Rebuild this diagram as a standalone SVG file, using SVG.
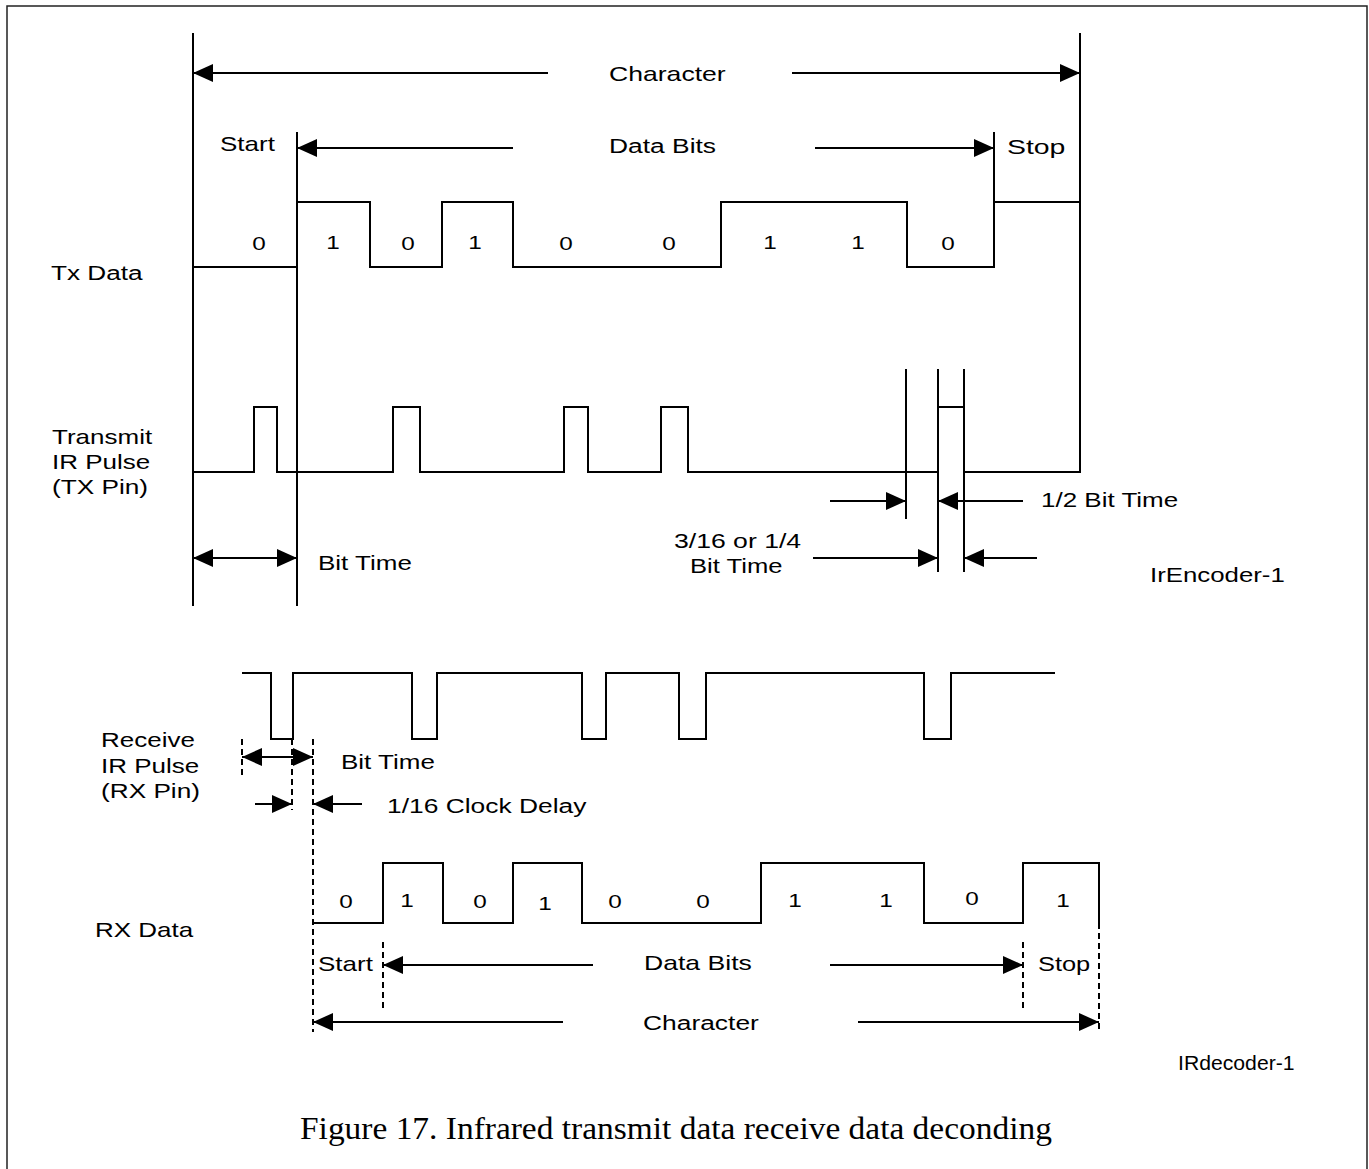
<svg xmlns="http://www.w3.org/2000/svg" width="1369" height="1169" viewBox="0 0 1369 1169">
<style>
.w{fill:none;stroke:#000;stroke-width:2;stroke-linejoin:miter}
.d{fill:none;stroke:#000;stroke-width:2;stroke-dasharray:6,4}
.t{font-family:"Liberation Sans",Arial,sans-serif;font-size:20px;fill:#000}
.n{font-family:"Liberation Sans",Arial,sans-serif;font-size:18px;fill:#000;text-anchor:middle}
.c{font-family:"Liberation Serif","Times New Roman",serif;font-size:32px;fill:#000}
</style>
<defs>
<marker id="ah" viewBox="0 0 20 18" refX="20" refY="9" markerWidth="20" markerHeight="18" markerUnits="userSpaceOnUse" orient="auto-start-reverse">
<path d="M0,0 L20,9 L0,18 Z" fill="#000"/>
</marker>
</defs>
<rect x="0" y="0" width="1369" height="1169" fill="#fff"/>
<path d="M7,1175 V6 H1367 V1175" fill="none" stroke="#222" stroke-width="1.5"/>

<g id="guides">
<path class="w" d="M193,33 V606 M297,132 V606 M1080,33 V202 M906,369 V519 M938,369 V572 M964,369 V572"/>
<path class="d" d="M242,739 V775 M292,739 V810 M313,739 V1032 M383,942 V1010 M1023,942 V1010 M1099,923 V1032"/>
</g>

<g id="tx-data">
<polyline class="w" points="193,267 297,267 297,202 370,202 370,267 442,267 442,202 513,202 513,267 721,267 721,202 907,202 907,267 994,267 994,202 1080,202"/>
<path class="w" d="M994,132 V202"/>
</g>

<g id="tx-ir-pulse">
<polyline class="w" points="193,472 254,472 254,407 277,407 277,472 393,472 393,407 420,407 420,472 564,472 564,407 588,407 588,472 661,472 661,407 688,407 688,472 938,472"/>
<path class="w" d="M938,407 H964 M964,472 H1080 V202"/>
</g>

<g id="rx-ir-pulse">
<polyline class="w" points="242,673 271,673 271,739 293,739 293,673 412,673 412,739 437,739 437,673 582,673 582,739 606,739 606,673 679,673 679,739 706,739 706,673 924,673 924,739 951,739 951,673 1055,673"/>
</g>

<g id="rx-data">
<polyline class="w" points="313,923 383,923 383,863 443,863 443,923 513,923 513,863 582,863 582,923 761,923 761,863 924,863 924,923 1023,923 1023,863 1099,863 1099,923"/>
</g>

<g id="connectors">
<line class="w" x1="548" y1="73" x2="193" y2="73" marker-end="url(#ah)"/>
<line class="w" x1="792" y1="73" x2="1080" y2="73" marker-end="url(#ah)"/>
<line class="w" x1="513" y1="148" x2="297" y2="148" marker-end="url(#ah)"/>
<line class="w" x1="815" y1="148" x2="994" y2="148" marker-end="url(#ah)"/>
<line class="w" x1="193" y1="558" x2="297" y2="558" marker-start="url(#ah)" marker-end="url(#ah)"/>
<line class="w" x1="830" y1="501" x2="906" y2="501" marker-end="url(#ah)"/>
<line class="w" x1="1023" y1="501" x2="938" y2="501" marker-end="url(#ah)"/>
<line class="w" x1="813" y1="558" x2="938" y2="558" marker-end="url(#ah)"/>
<line class="w" x1="1037" y1="558" x2="964" y2="558" marker-end="url(#ah)"/>
<line class="w" x1="242" y1="757" x2="313" y2="757" marker-start="url(#ah)" marker-end="url(#ah)"/>
<line class="w" x1="255" y1="804" x2="292" y2="804" marker-end="url(#ah)"/>
<line class="w" x1="362" y1="804" x2="313" y2="804" marker-end="url(#ah)"/>
<line class="w" x1="593" y1="965" x2="383" y2="965" marker-end="url(#ah)"/>
<line class="w" x1="830" y1="965" x2="1023" y2="965" marker-end="url(#ah)"/>
<line class="w" x1="563" y1="1022" x2="313" y2="1022" marker-end="url(#ah)"/>
<line class="w" x1="858" y1="1022" x2="1099" y2="1022" marker-end="url(#ah)"/>
</g>

<g id="labels">
<text class="t" transform="translate(609 81) scale(1.33 1)">Character</text>
<text class="t" transform="translate(220 151) scale(1.3 1)">Start</text>
<text class="t" transform="translate(609 153) scale(1.32 1)">Data Bits</text>
<text class="t" transform="translate(1007 154) scale(1.42 1)">Stop</text>
<text class="t" transform="translate(51 280) scale(1.31 1)">Tx Data</text>
<text class="t" transform="translate(52 444) scale(1.3 1)">Transmit</text>
<text class="t" transform="translate(52 469) scale(1.3 1)">IR Pulse</text>
<text class="t" transform="translate(52 494) scale(1.31 1)">(TX Pin)</text>
<text class="t" transform="translate(318 570) scale(1.3 1)">Bit Time</text>
<text class="t" transform="translate(1041 507) scale(1.3 1)">1/2 Bit Time</text>
<text class="t" transform="translate(674 548) scale(1.33 1)">3/16 or 1/4</text>
<text class="t" transform="translate(690 573) scale(1.28 1)">Bit Time</text>
<text class="t" transform="translate(1150 582) scale(1.29 1)">IrEncoder-1</text>
<text class="t" transform="translate(101 747) scale(1.3 1)">Receive</text>
<text class="t" transform="translate(101 773) scale(1.3 1)">IR Pulse</text>
<text class="t" transform="translate(101 798) scale(1.31 1)">(RX Pin)</text>
<text class="t" transform="translate(341 769) scale(1.3 1)">Bit Time</text>
<text class="t" transform="translate(387 813) scale(1.32 1)">1/16 Clock Delay</text>
<text class="t" transform="translate(95 937) scale(1.3 1)">RX Data</text>
<text class="t" transform="translate(318 971) scale(1.3 1)">Start</text>
<text class="t" transform="translate(644 970) scale(1.33 1)">Data Bits</text>
<text class="t" transform="translate(1038 971) scale(1.27 1)">Stop</text>
<text class="t" transform="translate(643 1030) scale(1.32 1)">Character</text>
<text class="t" transform="translate(1178 1070) scale(1.06 1)">IRdecoder-1</text>
<text class="c" transform="translate(300 1139) scale(1.045 1)">Figure 17. Infrared transmit data receive data deconding</text>
</g>

<g id="tx-bits">
<text class="n" transform="translate(259 250) scale(1.35 1)">0</text>
<text class="n" transform="translate(333 249) scale(1.35 1)">1</text>
<text class="n" transform="translate(408 250) scale(1.35 1)">0</text>
<text class="n" transform="translate(475 249) scale(1.35 1)">1</text>
<text class="n" transform="translate(566 250) scale(1.35 1)">0</text>
<text class="n" transform="translate(669 250) scale(1.35 1)">0</text>
<text class="n" transform="translate(770 249) scale(1.35 1)">1</text>
<text class="n" transform="translate(858 249) scale(1.35 1)">1</text>
<text class="n" transform="translate(948 250) scale(1.35 1)">0</text>
</g>

<g id="rx-bits">
<text class="n" transform="translate(346 908) scale(1.35 1)">0</text>
<text class="n" transform="translate(407 907) scale(1.35 1)">1</text>
<text class="n" transform="translate(480 908) scale(1.35 1)">0</text>
<text class="n" transform="translate(545 910) scale(1.35 1)">1</text>
<text class="n" transform="translate(615 908) scale(1.35 1)">0</text>
<text class="n" transform="translate(703 908) scale(1.35 1)">0</text>
<text class="n" transform="translate(795 907) scale(1.35 1)">1</text>
<text class="n" transform="translate(886 907) scale(1.35 1)">1</text>
<text class="n" transform="translate(972 905) scale(1.35 1)">0</text>
<text class="n" transform="translate(1063 907) scale(1.35 1)">1</text>
</g>
</svg>
